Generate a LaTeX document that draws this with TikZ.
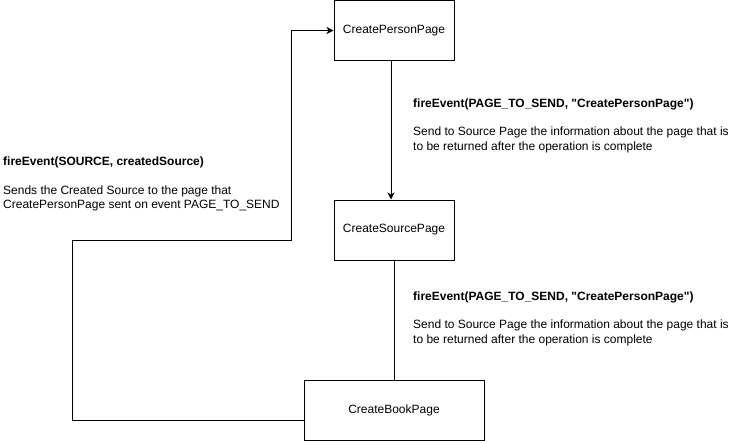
\documentclass[tikz,border=0pt]{standalone}
\usepackage{fontspec}
\setmainfont{Liberation Sans}[Ligatures=TeXOff]
\usetikzlibrary{arrows.meta,calc}
\begin{document}
\begin{tikzpicture}[x=1pt,y=-1pt,
  pagebox/.style={draw=black,line width=1pt,fill=white,minimum width=120pt,minimum height=60pt,inner sep=0pt,font=\fontsize{12}{14.4}\selectfont},
  conn/.style={draw=black,line width=1pt},
  arr/.style={conn,-{Stealth[length=7pt,width=7pt,inset=2pt]}},
  lbl/.style={anchor=base west,inner sep=0pt,font=\fontsize{12}{14.4}\selectfont},
  lblb/.style={lbl,font=\fontsize{12}{14.4}\selectfont\bfseries}]
\useasboundingbox (0,0) rectangle (731,441);
\node[pagebox] (person) at (394,30.5) {CreatePersonPage};
\node[pagebox] (source) at (394,230) {CreateSourcePage};
\node[pagebox,minimum width=180pt] (book) at (394,410) {CreateBookPage};
% connectors
\draw[arr] ($(person.south)+(-3,0)$) -- ($(source.north)+(-3,0)$);
\draw[conn] (source.south) -- (book.north);
\coordinate (b1) at ($(book.west)+(0,10)$);
\coordinate (c1) at (72,420);
\coordinate (c2) at (72,240);
\coordinate (c3) at (291,240);
\draw[arr] (b1) -- (c1) -- (c2) -- (c3) |- (person.west);
% labels
\node[lblb] (l1a) at (413,108) {fireEvent(PAGE\_TO\_SEND, "CreatePersonPage")};
\node[lbl] (l1b) at (413,136) {Send to Source Page the information about the page that is};
\node[lbl] (l1c) at (413,150.5) {to be returned after the operation is complete};
\node[lblb] (l2a) at (413,300.5) {fireEvent(PAGE\_TO\_SEND, "CreatePersonPage")};
\node[lbl] (l2b) at (413,328.5) {Send to Source Page the information about the page that is};
\node[lbl] (l2c) at (413,343) {to be returned after the operation is complete};
\node[lblb] (l3a) at (3,166) {fireEvent(SOURCE, createdSource)};
\node[lbl] (l3b) at (3,194) {Sends the Created Source to the page that};
\node[lbl] (l3c) at (3,208.5) {CreatePersonPage sent on event PAGE\_TO\_SEND};
\end{tikzpicture}
\end{document}
